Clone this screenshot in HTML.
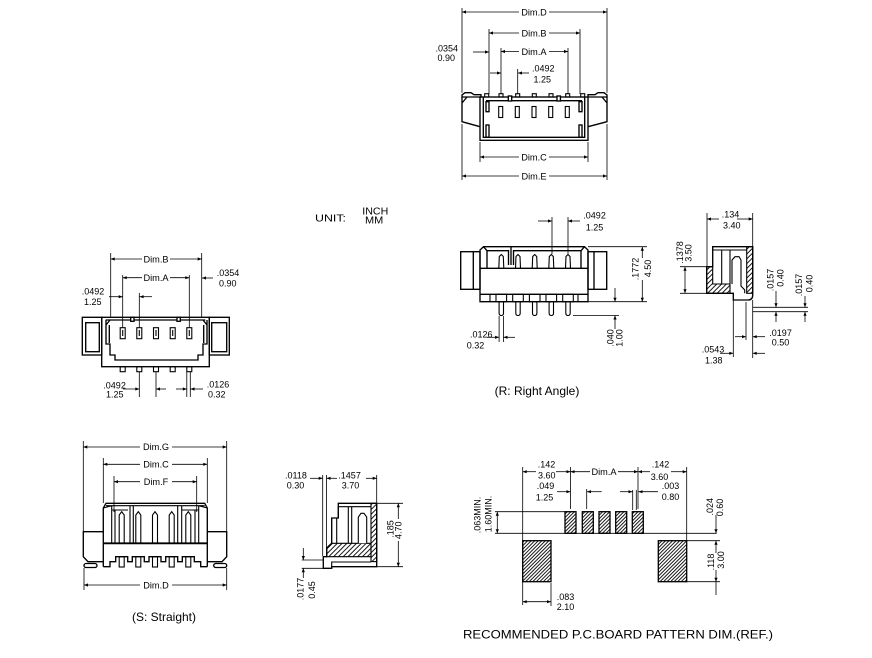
<!DOCTYPE html>
<html><head><meta charset="utf-8"><style>
html,body{margin:0;padding:0;background:#fff;}
svg{display:block;}
text{font-family:"Liberation Sans",Arial,sans-serif;fill:#000;stroke:none;}
.n{font-size:9px;}
.r{font-size:9px;text-anchor:middle;}
.d{font-size:9.2px;text-anchor:middle;}
.s{marker-start:url(#a);}
.e{marker-end:url(#a);}
.b{marker-start:url(#a);marker-end:url(#a);}
</style></head><body>
<svg width="872" height="658" viewBox="0 0 872 658" xmlns="http://www.w3.org/2000/svg">
<defs>
<marker id="a" viewBox="0 0 10 10" refX="10" refY="5" markerUnits="userSpaceOnUse" markerWidth="6" markerHeight="4" orient="auto-start-reverse"><path d="M0,1L10,5L0,9z" fill="#000"/></marker>
<pattern id="h" width="2.5" height="2.5" patternUnits="userSpaceOnUse" patternTransform="rotate(45)"><line x1="0.5" y1="0" x2="0.5" y2="2.5" stroke="#000" stroke-width="0.9"/></pattern>
<pattern id="h2" width="3.4" height="3.4" patternUnits="userSpaceOnUse" patternTransform="rotate(45)"><line x1="0.5" y1="0" x2="0.5" y2="3.4" stroke="#000" stroke-width="0.9"/></pattern>
</defs>

<g fill="none" stroke="#000" stroke-width="0.8">
<path d="M462,8V92.7M607,8V92.7M489,29V94M580,29V94M501,48V94M568,48V94M517.7,69V94M480,142V162M588,142V162M462,124V180M607,124V180"/>
<line class="s" x1="462" y1="12" x2="519" y2="12"/><line class="e" x1="549" y1="12" x2="607" y2="12"/>
<line class="s" x1="489" y1="33" x2="519" y2="33"/><line class="e" x1="549" y1="33" x2="580" y2="33"/>
<line class="s" x1="501" y1="51.5" x2="519" y2="51.5"/><line class="e" x1="549" y1="51.5" x2="568" y2="51.5"/>
<line class="e" x1="473" y1="52" x2="489" y2="52"/>
<line class="e" x1="490" y1="73" x2="501" y2="73"/>
<line class="e" x1="529" y1="73" x2="518" y2="73"/>
<line class="s" x1="480" y1="157" x2="519" y2="157"/><line class="e" x1="549" y1="157" x2="588" y2="157"/>
<line class="s" x1="462" y1="176" x2="519" y2="176"/><line class="e" x1="549" y1="176" x2="607" y2="176"/>

<path d="M110.7,253V317M201.7,253V317M122.7,275V328M189.3,275V328M139.3,293V328M139.3,372V397M156,372V397M186.8,372V397M190.3,372V397"/>
<line class="s" x1="110.7" y1="259" x2="142" y2="259"/><line class="e" x1="170" y1="259" x2="201.7" y2="259"/>
<line class="s" x1="122.7" y1="277.7" x2="142" y2="277.7"/><line class="e" x1="170" y1="277.7" x2="189.3" y2="277.7"/>
<line class="e" x1="213" y1="278" x2="202" y2="278"/>
<line class="e" x1="109" y1="296.7" x2="122.7" y2="296.7"/>
<line class="e" x1="152" y1="296.7" x2="139.6" y2="296.7"/>
<line class="e" x1="123" y1="389" x2="139.3" y2="389"/>
<line class="s" x1="156" y1="389" x2="166" y2="389"/><line class="e" x1="176" y1="389" x2="186.8" y2="389"/>
<line class="e" x1="203" y1="389" x2="190.5" y2="389"/>

<path d="M552,217V254M568,217V254M588,246.7H647M588,301.7H647M573,315.5H619M499.1,316V342M503.5,316V342"/>
<line class="e" x1="538" y1="221" x2="552" y2="221"/><line class="e" x1="580" y1="221" x2="568" y2="221"/>
<line class="s" x1="642.3" y1="246.7" x2="642.3" y2="258"/><line class="e" x1="642.3" y1="280" x2="642.3" y2="301.7"/>
<line class="e" x1="615" y1="288" x2="615" y2="301.7"/><line class="e" x1="615" y1="329" x2="615" y2="315.5"/>
<line class="e" x1="487" y1="337.3" x2="499.1" y2="337.3"/><line class="e" x1="515" y1="337.3" x2="503.5" y2="337.3"/>

<path d="M707,213V266M752.7,213V246.7M680,266.7H706M680,293.3H706M752.7,307.3H808M752.7,311.7H808M733.3,300V357M746,302V340M752.7,300V358"/>
<line class="s" x1="707" y1="219" x2="719" y2="219"/><line class="e" x1="737" y1="219" x2="752.7" y2="219"/>
<line class="b" x1="685" y1="266.7" x2="685" y2="293.3"/>
<line class="e" x1="776" y1="291" x2="776" y2="307.3"/><line class="e" x1="776" y1="322" x2="776" y2="311.7"/>
<line class="e" x1="805" y1="296" x2="805" y2="307.3"/><line class="e" x1="805" y1="322" x2="805" y2="311.7"/>
<line class="e" x1="735" y1="336.7" x2="746" y2="336.7"/><line class="e" x1="765" y1="336.7" x2="752.7" y2="336.7"/>
<line class="e" x1="720" y1="353.3" x2="733.3" y2="353.3"/><line class="e" x1="765" y1="353.3" x2="752.7" y2="353.3"/>

<path d="M83.3,441V531M226.7,441V531M103.3,458V503M207.3,458V503M114,476V512M196.7,476V512M84,568V590M226.7,568V590"/>
<line class="s" x1="83.3" y1="447" x2="140" y2="447"/><line class="e" x1="172" y1="447" x2="226.7" y2="447"/>
<line class="s" x1="103.3" y1="464.3" x2="140" y2="464.3"/><line class="e" x1="172" y1="464.3" x2="207.3" y2="464.3"/>
<line class="s" x1="114" y1="481.7" x2="140" y2="481.7"/><line class="e" x1="172" y1="481.7" x2="196.7" y2="481.7"/>
<line class="s" x1="84" y1="585" x2="140" y2="585"/><line class="e" x1="172" y1="585" x2="226.7" y2="585"/>

<path d="M322.7,475V556M326.5,475V548M376.7,475V503M376.7,503.3H403M376.7,566.7H403M301.7,560H323M301.7,568.3H323"/>
<line class="e" x1="310" y1="478.3" x2="322.7" y2="478.3"/>
<line class="s" x1="326.5" y1="478.3" x2="337" y2="478.3"/><line class="e" x1="366" y1="478.3" x2="376.7" y2="478.3"/>
<line class="s" x1="398.3" y1="503.3" x2="398.3" y2="519"/><line class="e" x1="398.3" y1="541" x2="398.3" y2="566.7"/>
<line class="e" x1="303.3" y1="548" x2="303.3" y2="560"/><line class="e" x1="303.3" y1="578" x2="303.3" y2="568.3"/>

<path d="M522.7,467V605M570.5,467V509M638,467V509M686.7,467V540.7M551,583V606M586.7,489V509M632.7,490V510M636.3,490V510M495,511.7H565M495,533.3H716.7M686.7,540.7H720M686.7,581.7H720M716,581.7V595"/>
<line class="s" x1="522.7" y1="471.7" x2="536" y2="471.7"/><line class="e" x1="556" y1="471.7" x2="570.5" y2="471.7"/>
<line class="s" x1="570.5" y1="471.7" x2="590" y2="471.7"/><line class="e" x1="618" y1="471.7" x2="638" y2="471.7"/>
<line class="s" x1="638" y1="471.7" x2="650" y2="471.7"/><line class="e" x1="671" y1="471.7" x2="686.7" y2="471.7"/>
<line class="e" x1="557" y1="491.7" x2="570.5" y2="491.7"/><line class="e" x1="601.7" y1="491.7" x2="587" y2="491.7"/>
<line class="e" x1="620" y1="491.7" x2="632.5" y2="491.7"/><line class="e" x1="658" y1="491.7" x2="638.5" y2="491.7"/>
<line class="b" x1="497.3" y1="511.7" x2="497.3" y2="533.3"/>
<line class="e" x1="716" y1="515" x2="716" y2="533.3"/>
<line class="s" x1="716" y1="540.7" x2="716" y2="553"/><line class="e" x1="716" y1="570" x2="716" y2="581.7"/>
<line class="b" x1="522.7" y1="601.7" x2="551" y2="601.7"/>
</g>

<g fill="none" stroke="#000" stroke-width="1.35">
<path d="M465,92.7H471L474,94.7H481V97H462V95Z"/>
<path d="M604,92.7H598L595,94.7H588V97H607V95Z"/>
<path d="M462,97V121.7L480,126.7M607,97V121.7L588,126.7M462,103L467,97M607,103L602,97"/>
<rect x="480" y="97" width="108" height="43.3"/>
<path d="M483.3,97V137.3H584.7V97M486,100.7H582"/>
<rect x="486" y="101.7" width="3" height="10"/><rect x="486" y="125" width="3" height="12.3"/>
<rect x="579" y="101.7" width="3" height="10"/><rect x="579" y="125" width="3" height="12.3"/>
<rect x="508.3" y="96" width="3.4" height="5" fill="#fff"/><rect x="557" y="96" width="3.4" height="5" fill="#fff"/>
<g stroke-width="1.1">
<rect x="484.7" y="93.7" width="4" height="3.3"/><rect x="499" y="93.7" width="4" height="3.3"/><rect x="515.7" y="93.7" width="4" height="3.3"/><rect x="532.3" y="93.7" width="4" height="3.3"/><rect x="549" y="93.7" width="4" height="3.3"/><rect x="565.7" y="93.7" width="4" height="3.3"/><rect x="580.7" y="93.7" width="4" height="3.3"/>
<rect x="498.7" y="106.5" width="4" height="11"/><rect x="515.3" y="106.5" width="4" height="11"/><rect x="532" y="106.5" width="4" height="11"/><rect x="548.7" y="106.5" width="4" height="11"/><rect x="565.3" y="106.5" width="4" height="11"/>
</g>

<rect x="82.3" y="317.3" width="19.4" height="37.7"/><rect x="85.7" y="322.7" width="13.6" height="29"/>
<rect x="209.3" y="317.3" width="20" height="37.7"/><rect x="211.7" y="322.7" width="15" height="29"/>
<rect x="101.7" y="317.3" width="107.6" height="49.4"/>
<path d="M105.7,320H205.3M106,320V344H110V355H115V360H198V355H203V344H207V320M106,325L110,320M207,325L203,320M109.3,325V343M203.7,325V343"/>
<rect x="130.7" y="317.3" width="3.3" height="4" fill="#fff"/><rect x="177" y="317.3" width="3.3" height="4" fill="#fff"/>
<g stroke-width="1.1">
<rect x="120.2" y="327.7" width="5" height="11"/><rect x="136.8" y="327.7" width="5" height="11"/><rect x="153.5" y="327.7" width="5" height="11"/><rect x="170.2" y="327.7" width="5" height="11"/><rect x="186.8" y="327.7" width="5" height="11"/>
<path d="M122.7,330V336M139.3,330V336M156,330V336M172.7,330V336M189.3,330V336"/>
<rect x="120.2" y="366.7" width="5" height="5"/><rect x="136.8" y="366.7" width="5" height="5"/><rect x="153.5" y="366.7" width="5" height="5"/><rect x="170.2" y="366.7" width="5" height="5"/><rect x="186.8" y="366.7" width="5" height="5"/>
</g>

<path d="M480,301.7V250L483.5,246.7H584.5L588,250V301.7Z"/>
<path d="M480,294.3H588M480,268.3H588"/>
<path d="M483.5,246.7L487,250.7H508.5V265M511,247V265M513.5,265V250.7H581L584.5,246.7M487,250.7V268.3M581,250.7V268.3"/>
<rect x="460.7" y="251.7" width="19.3" height="37.6"/><path d="M473.3,251.7V289.3"/>
<rect x="588" y="251.7" width="18.7" height="37.6"/><path d="M594,251.7V289.3"/>
<g stroke-width="1.1">
<path d="M490,294.3V301.7M578,294.3V301.7"/>
<rect x="496" y="294.3" width="10.6" height="7.4"/><rect x="512.7" y="294.3" width="10.6" height="7.4"/><rect x="529.4" y="294.3" width="10.6" height="7.4"/><rect x="546" y="294.3" width="10.6" height="7.4"/><rect x="562.7" y="294.3" width="10.6" height="7.4"/>
<path d="M498.8,268.3L499.3,256.5L501.3,254.5L503.3,256.5L503.8,268.3"/>
<path d="M515.5,268.3L516,256.5L518,254.5L520,256.5L520.5,268.3"/>
<path d="M532.2,268.3L532.7,256.5L534.7,254.5L536.7,256.5L537.2,268.3"/>
<path d="M548.8,268.3L549.3,256.5L551.3,254.5L553.3,256.5L553.8,268.3"/>
<path d="M565.5,268.3L566,256.5L568,254.5L570,256.5L570.5,268.3"/>
<path d="M499.1,301.7V313Q499.1,315.5 501.3,315.5Q503.5,315.5 503.5,313V301.7"/>
<path d="M515.8,301.7V313Q515.8,315.5 518,315.5Q520.2,315.5 520.2,313V301.7"/>
<path d="M532.5,301.7V313Q532.5,315.5 534.7,315.5Q536.9,315.5 536.9,313V301.7"/>
<path d="M549.1,301.7V313Q549.1,315.5 551.3,315.5Q553.5,315.5 553.5,313V301.7"/>
<path d="M565.8,301.7V313Q565.8,315.5 568,315.5Q570.2,315.5 570.2,313V301.7"/>
</g>

<rect x="746.7" y="246.7" width="6" height="46.6" fill="url(#h2)" stroke-width="1.1"/>
<path d="M706.7,266.7H712.7V284H730V293.3H706.7Z" fill="url(#h2)" stroke-width="1.1"/>
<path d="M712.7,246.7H752.7V295Q752.7,300 748,300H733.3V293.3H706.7V266.7H712.7Z"/>
<path d="M712.7,250H746.7M721.7,250V284M730,250V284" stroke-width="1.1"/>
<path d="M732,284V260L735,256.7H739L741,260V286L744.7,290V293.3" stroke-width="1.1"/>

<path d="M103.3,566.7V508L106,503.3H204.7L207.3,508V566.7"/>
<path d="M103.3,531.7H83.3V556.7L88,561.7H103.3M207.3,531.7H226.7V556.7L222,561.7H207.3"/>
<rect x="84" y="563.5" width="13" height="4" rx="2"/><rect x="213.7" y="563.5" width="13" height="4" rx="2"/>
<path d="M103.3,543.3H207.3" stroke-width="1.8"/>
<path d="M103.3,566.7H110V561.7H115.7V556.7H127.7V561.7H132.3V556.7H144.3V561.7H149V556.7H161V561.7H165.7V556.7H177.7V561.7H182.3V556.7H194.3V561.7H200.7V566.7H207.3"/>
<g stroke-width="1.1">
<path d="M106,505.7H204.7M111.7,505.7V543.3M115,510V543.3M111.7,510H128M130,505.7V543.3M133.3,505.7V543.3M177.7,505.7V543.3M181.7,505.7V543.3M195,510V543.3M198.7,505.7V543.3M182,510H198.7M103.3,508L111.7,505.7M207.3,508L198.7,505.7"/>
<path d="M119.2,543.3V515L121.7,511.7L124.2,515V543.3"/>
<path d="M135.8,543.3V515L138.3,511.7L140.8,515V543.3"/>
<path d="M152.5,543.3V515L155,511.7L157.5,515V543.3"/>
<path d="M169.2,543.3V515L171.7,511.7L174.2,515V543.3"/>
<path d="M185.8,543.3V515L188.3,511.7L190.8,515V543.3"/>
<rect x="119.2" y="556.7" width="5" height="10.3"/><rect x="135.8" y="556.7" width="5" height="10.3"/><rect x="152.5" y="556.7" width="5" height="10.3"/><rect x="169.2" y="556.7" width="5" height="10.3"/><rect x="185.8" y="556.7" width="5" height="10.3"/>
</g>

<rect x="371" y="503.3" width="5.7" height="58.3" fill="url(#h2)" stroke-width="1.1"/>
<path d="M326.7,556.7V548L331.7,543.3H371V556.7Z" fill="url(#h2)" stroke-width="1.1"/>
<path d="M338.3,503.3H376.7V566.7H331.7V568.3H323.3V556.7H326.7V548L331.7,543.3V518H338.3Z"/>
<path d="M338.3,506.7H371M348.3,506.7V543.3M351.7,506.7V543.3M331.7,518H336.7V543.3M338.3,506.7V518M331.7,566.7V562H371" stroke-width="1.1"/>
<path d="M358.3,543.3V517L361,513.3H364L366.7,517V543.3" fill="#fff" stroke-width="1.1"/>

<g stroke-width="1.3">
<rect x="522.7" y="540.7" width="28.3" height="41" fill="url(#h)"/>
<rect x="658.3" y="540.7" width="28.4" height="41" fill="url(#h)"/>
<rect x="565" y="511.7" width="11" height="21.6" fill="url(#h)"/>
<rect x="582.3" y="511.7" width="11" height="21.6" fill="url(#h)"/>
<rect x="599" y="511.7" width="11" height="21.6" fill="url(#h)"/>
<rect x="615.7" y="511.7" width="11" height="21.6" fill="url(#h)"/>
<rect x="632.3" y="511.7" width="11" height="21.6" fill="url(#h)"/>
</g>
</g>

<text class="d" x="534" y="15.3">Dim.D</text>
<text class="d" x="534" y="36.3">Dim.B</text>
<text class="d" x="534" y="54.8">Dim.A</text>
<text class="d" x="534" y="160.3">Dim.C</text>
<text class="d" x="534" y="179.3">Dim.E</text>
<text class="n" x="435.5" y="51.5">.0354</text>
<text class="n" x="437.5" y="61">0.90</text>
<text class="n" x="532" y="71.7">.0492</text>
<text class="n" x="533.5" y="82.7">1.25</text>

<text x="315" y="221.7" font-size="10.5" textLength="31" lengthAdjust="spacingAndGlyphs">UNIT:</text>
<text x="362.3" y="214.3" font-size="10" textLength="26" lengthAdjust="spacingAndGlyphs">INCH</text>
<text x="365" y="223.6" font-size="10" textLength="18.3" lengthAdjust="spacingAndGlyphs">MM</text>

<text class="d" x="156" y="262.3">Dim.B</text>
<text class="d" x="156" y="281">Dim.A</text>
<text class="n" x="216.7" y="276">.0354</text>
<text class="n" x="219" y="286.7">0.90</text>
<text class="n" x="81.7" y="294.3">.0492</text>
<text class="n" x="84" y="305">1.25</text>
<text class="n" x="103.3" y="388.3">.0492</text>
<text class="n" x="106" y="397.7">1.25</text>
<text class="n" x="206.7" y="387.7">.0126</text>
<text class="n" x="208" y="397.3">0.32</text>

<text class="n" x="583.3" y="218.3">.0492</text>
<text class="n" x="585.7" y="230.7">1.25</text>
<text class="n" x="470" y="337.3">.0126</text>
<text class="n" x="466.7" y="348.7">0.32</text>
<text class="r" transform="translate(635.5,269) rotate(-90)" y="3">.1772</text>
<text class="r" transform="translate(648,268.5) rotate(-90)" y="3">4.50</text>
<text class="r" transform="translate(610.5,338) rotate(-90)" y="3">.040</text>
<text class="r" transform="translate(619.7,338) rotate(-90)" y="3">1.00</text>
<text x="537" y="395" font-size="12" text-anchor="middle">(R: Right Angle)</text>

<text class="n" x="721.7" y="217.5">.134</text>
<text class="n" x="723" y="228.3">3.40</text>
<text class="r" transform="translate(680,252.5) rotate(-90)" y="3">.1378</text>
<text class="r" transform="translate(688.5,253) rotate(-90)" y="3">3.50</text>
<text class="r" transform="translate(770.5,280) rotate(-90)" y="3">.0157</text>
<text class="r" transform="translate(780.5,278) rotate(-90)" y="3">0.40</text>
<text class="r" transform="translate(799,285) rotate(-90)" y="3">.0157</text>
<text class="r" transform="translate(809.5,283.5) rotate(-90)" y="3">0.40</text>
<text class="n" x="769.3" y="336">.0197</text>
<text class="n" x="771.7" y="345.5">0.50</text>
<text class="n" x="701.7" y="352.7">.0543</text>
<text class="n" x="705" y="363.3">1.38</text>

<text class="d" x="156" y="450.2">Dim.G</text>
<text class="d" x="156" y="467.6">Dim.C</text>
<text class="d" x="156" y="485">Dim.F</text>
<text class="d" x="156" y="588.3">Dim.D</text>
<text x="164" y="621" font-size="12" text-anchor="middle">(S: Straight)</text>

<text class="n" x="285" y="478.3">.0118</text>
<text class="n" x="286.7" y="488.3">0.30</text>
<text class="n" x="338.3" y="478.3">.1457</text>
<text class="n" x="341.7" y="488.3">3.70</text>
<text class="r" transform="translate(390.3,529) rotate(-90)" y="3">.185</text>
<text class="r" transform="translate(398.5,530.3) rotate(-90)" y="3">4.70</text>
<text class="r" transform="translate(300.5,589) rotate(-90)" y="3">.0177</text>
<text class="r" transform="translate(312,590) rotate(-90)" y="3">0.45</text>

<text class="n" x="537.7" y="467.3">.142</text>
<text class="n" x="538" y="478.3">3.60</text>
<text class="d" x="604" y="475">Dim.A</text>
<text class="n" x="651.7" y="467.3">.142</text>
<text class="n" x="650.7" y="480">3.60</text>
<text class="n" x="536.7" y="489">.049</text>
<text class="n" x="535.7" y="500.7">1.25</text>
<text class="n" x="661.7" y="489">.003</text>
<text class="n" x="661.7" y="500">0.80</text>
<text class="n" x="556.7" y="600">.083</text>
<text class="n" x="556.7" y="610">2.10</text>
<text class="r" transform="translate(477.5,515) rotate(-90)" y="3">.063MIN.</text>
<text class="r" transform="translate(488.5,514) rotate(-90)" y="3">1.60MIN.</text>
<text class="r" transform="translate(710,506.7) rotate(-90)" y="3">.024</text>
<text class="r" transform="translate(720,507.5) rotate(-90)" y="3">0.60</text>
<text class="r" transform="translate(711,562) rotate(-90)" y="3">.118</text>
<text class="r" transform="translate(721,560) rotate(-90)" y="3">3.00</text>
<text x="463" y="638.5" font-size="12" textLength="310" lengthAdjust="spacingAndGlyphs">RECOMMENDED P.C.BOARD PATTERN DIM.(REF.)</text>
</svg>
</body></html>
